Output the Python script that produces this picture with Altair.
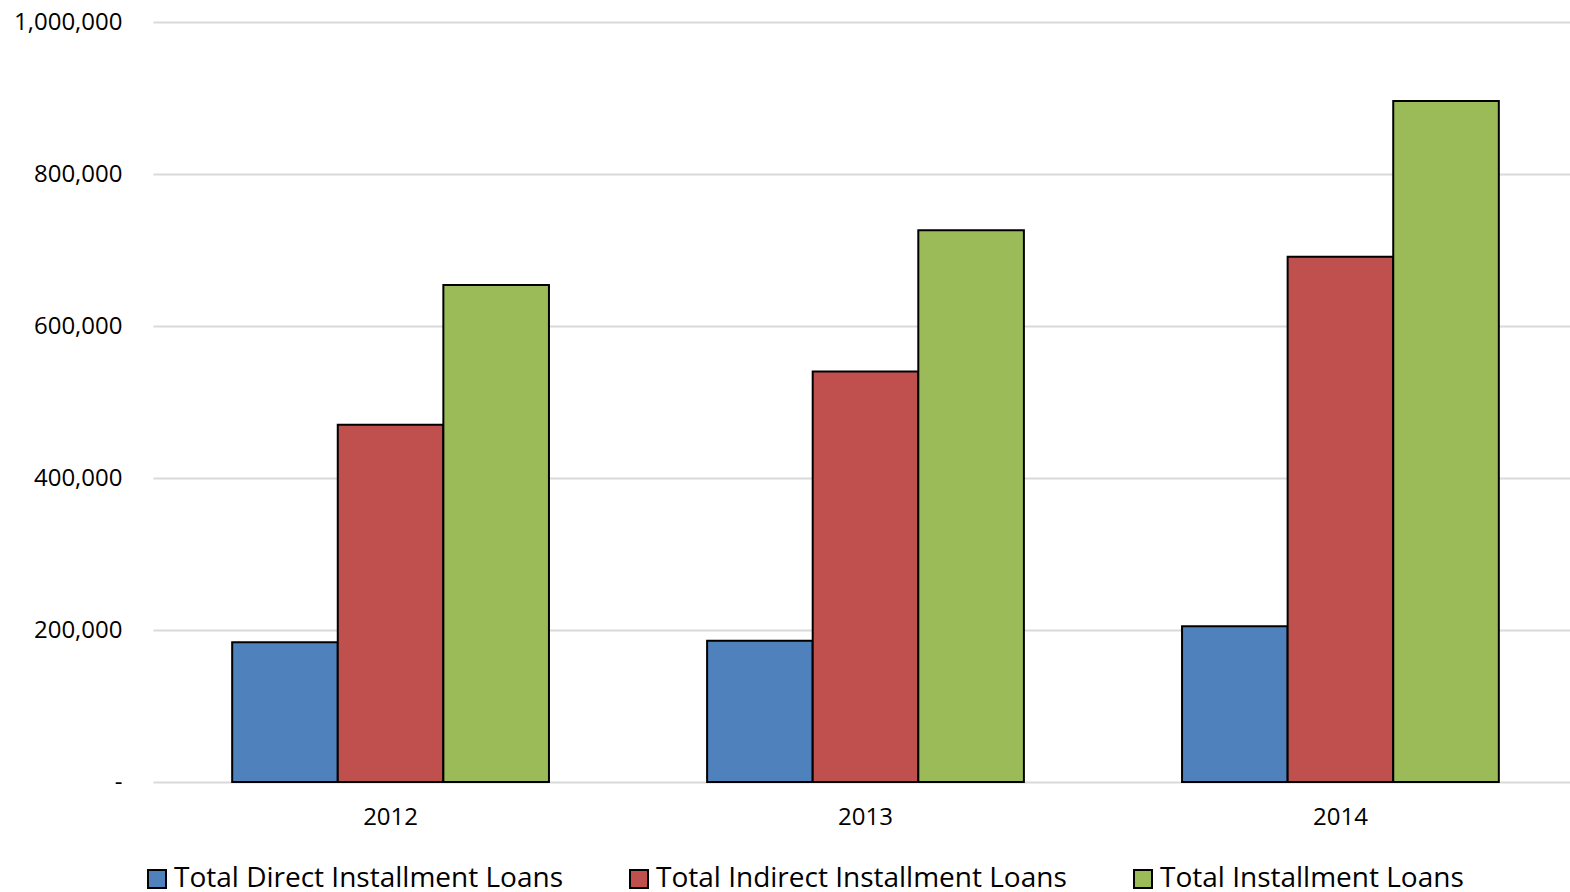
import altair as alt
import pandas as pd

years = ["2012", "2013", "2014"]
series = ["Total Direct Installment Loans", "Total Indirect Installment Loans", "Total Installment Loans"]
direct = [184000, 186000, 205000]
indirect = [470000, 540000, 691000]
total = [654000, 726000, 896000]
colors = ["#4F81BD", "#C0504D", "#9BBB59"]

rows = []
for i, y in enumerate(years):
    for s, vals in zip(series, [direct, indirect, total]):
        rows.append({"year": y, "series": s, "value": vals[i]})
df = pd.DataFrame(rows)

FONT = "Open Sans"

chart = alt.Chart(df).mark_bar(stroke="black", strokeWidth=2).encode(
    x=alt.X("year:N", title=None, sort=years,
            scale=alt.Scale(paddingInner=0.333, paddingOuter=0.1667, range=[0, 1425]),
            axis=alt.Axis(labelAngle=0, labelFontSize=24, labelFont=FONT, labelColor="black",
                          domain=False, ticks=False, labelPadding=23)),
    xOffset=alt.XOffset("series:N", sort=series),
    y=alt.Y("value:Q", title=None,
            scale=alt.Scale(domain=[0, 1000000]),
            axis=alt.Axis(values=[0, 200000, 400000, 600000, 800000, 1000000],
                          labelExpr="datum.value == 0 ? '-\u00a0\u00a0\u00a0\u00a0' : format(datum.value, ',')",
                          labelFontSize=24, labelFont=FONT, labelColor="black",
                          domain=False, ticks=False, labelPadding=31,
                          grid=True, gridColor="#d9d9d9", gridWidth=2)),
    color=alt.Color("series:N", sort=series,
                    scale=alt.Scale(domain=series, range=colors),
                    legend=alt.Legend(title=None, orient="none", legendX=-10, legendY=843,
                                      direction="horizontal", symbolType="square", symbolSize=324,
                                      symbolStrokeColor="black", symbolStrokeWidth=2,
                                      labelFontSize=28, labelFont=FONT, labelColor="black",
                                      labelOffset=3, columnPadding=62, labelLimit=600)),
).properties(
    width=1415, height=760,
    autosize=alt.AutoSizeParams(type="none"),
    padding={"left": 153, "top": 22, "right": 2, "bottom": 110},
).configure_view(stroke=None)

chart.save("out.html", embed_options={"renderer": "svg", "actions": False})
